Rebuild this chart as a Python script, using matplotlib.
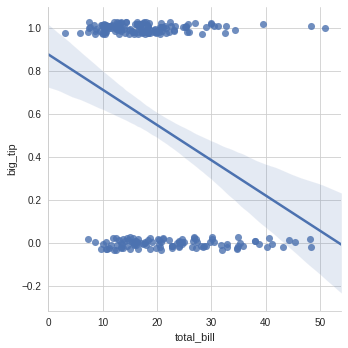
import numpy as np
import pandas as pd
import matplotlib
matplotlib.use("Agg")
import matplotlib.pyplot as plt
import seaborn as sns

# restaurant tips: bill and tip per party
total_bill = [
    16.99, 10.34, 21.01, 23.68, 24.59, 25.29, 8.77, 26.88, 15.04, 14.78,
    10.27, 35.26, 15.42, 18.43, 14.83, 21.58, 10.33, 16.29, 16.97, 20.65,
    17.92, 20.29, 15.77, 39.42, 19.82, 17.81, 13.37, 12.69, 21.70, 19.65,
    9.55, 18.35, 15.06, 20.69, 17.78, 24.06, 16.31, 16.93, 18.69, 31.27,
    16.04, 17.46, 13.94, 9.68, 30.40, 18.29, 22.23, 32.40, 28.55, 18.04,
    12.54, 10.29, 34.81, 9.94, 25.56, 19.49, 38.01, 26.41, 11.24, 48.27,
    20.29, 13.81, 11.02, 18.29, 17.59, 20.08, 16.45, 3.07, 20.23, 15.01,
    12.02, 17.07, 26.86, 25.28, 14.73, 10.51, 17.92, 27.20, 22.76, 17.29,
    19.44, 16.66, 10.07, 32.68, 15.98, 34.83, 13.03, 18.28, 24.71, 21.16,
    28.97, 22.49, 5.75, 16.32, 22.75, 40.17, 27.28, 12.03, 21.01, 12.46,
    11.35, 15.38, 44.30, 22.42, 20.92, 15.36, 20.49, 25.21, 18.24, 14.31,
    14.00, 7.25, 38.07, 23.95, 25.71, 17.31, 29.93, 10.65, 12.43, 24.08,
    11.69, 13.42, 14.26, 15.95, 12.48, 29.80, 8.52, 14.52, 11.38, 22.82,
    19.08, 20.27, 11.17, 12.26, 18.26, 8.51, 10.33, 14.15, 16.00, 13.16,
    17.47, 34.30, 41.19, 27.05, 16.43, 8.35, 18.64, 11.87, 9.78, 7.51,
    14.07, 13.13, 17.26, 24.55, 19.77, 29.85, 48.17, 25.00, 13.39, 16.49,
    21.50, 12.66, 16.21, 13.81, 17.51, 24.52, 20.76, 31.71, 10.59, 10.63,
    50.81, 15.81, 7.25, 31.85, 16.82, 32.90, 17.89, 14.48, 9.60, 34.63,
    34.65, 23.33, 45.35, 23.17, 40.55, 20.69, 20.90, 30.46, 18.15, 23.10,
    15.69, 19.81, 28.44, 15.48, 16.58, 7.56, 10.34, 43.11, 13.00, 13.51,
    18.71, 12.74, 13.00, 16.40, 20.53, 16.47, 26.59, 38.73, 24.27, 12.76,
    30.06, 25.89, 48.33, 13.27, 28.17, 12.90, 28.15, 11.59, 7.74, 30.14,
    12.16, 13.42, 8.58, 15.98, 13.42, 16.27, 10.09, 20.45, 13.28, 22.12,
    24.01, 15.69, 11.61, 10.77, 15.53, 10.07, 12.60, 32.83, 35.83, 29.03,
    27.18, 22.67, 17.82, 18.78,
]
tip = [
    1.01, 1.66, 3.50, 3.31, 3.61, 4.71, 2.00, 3.12, 1.96, 3.23,
    1.71, 5.00, 1.57, 3.00, 3.02, 3.92, 1.67, 3.71, 3.50, 3.35,
    4.08, 2.75, 2.23, 7.58, 3.18, 2.34, 2.00, 2.00, 4.30, 3.00,
    1.45, 2.50, 3.00, 2.45, 3.27, 3.60, 2.00, 3.07, 2.31, 5.00,
    2.24, 2.54, 3.06, 1.32, 5.60, 3.00, 5.00, 6.00, 2.05, 3.00,
    2.50, 2.60, 5.20, 1.56, 4.34, 3.51, 3.00, 1.50, 1.76, 6.73,
    3.21, 2.00, 1.98, 3.76, 2.64, 3.15, 2.47, 1.00, 2.01, 2.09,
    1.97, 3.00, 3.14, 5.00, 2.20, 1.25, 3.08, 4.00, 3.00, 2.71,
    3.00, 3.40, 1.83, 5.00, 2.03, 5.17, 2.00, 4.00, 5.85, 3.00,
    3.00, 3.50, 1.00, 4.30, 3.25, 4.73, 4.00, 1.50, 3.00, 1.50,
    2.50, 3.00, 2.50, 3.48, 4.08, 1.64, 4.06, 4.29, 3.76, 4.00,
    3.00, 1.00, 4.00, 2.55, 4.00, 3.50, 5.07, 1.50, 1.80, 2.92,
    2.31, 1.68, 2.50, 2.00, 2.52, 4.20, 1.48, 2.00, 2.00, 2.18,
    1.50, 2.83, 1.50, 2.00, 3.25, 1.25, 2.00, 2.00, 2.00, 2.75,
    3.50, 6.70, 5.00, 5.00, 2.30, 1.50, 1.36, 1.63, 1.73, 2.00,
    2.50, 2.00, 2.74, 2.00, 2.00, 5.14, 5.00, 3.75, 2.61, 2.00,
    3.50, 2.50, 2.00, 2.00, 3.00, 3.48, 2.24, 4.50, 1.61, 2.00,
    10.00, 3.16, 5.15, 3.18, 4.00, 3.11, 2.00, 2.00, 4.00, 3.55,
    3.68, 5.65, 3.50, 6.50, 3.00, 5.00, 3.50, 2.00, 3.50, 4.00,
    1.50, 4.19, 2.56, 2.02, 4.00, 1.44, 2.00, 5.00, 2.00, 2.00,
    4.00, 2.01, 2.00, 2.50, 4.00, 3.23, 3.41, 3.00, 2.03, 2.23,
    2.00, 5.16, 9.00, 2.50, 6.50, 1.10, 3.00, 1.50, 1.44, 3.09,
    2.20, 3.48, 1.92, 3.00, 1.58, 2.50, 2.00, 3.00, 2.72, 2.88,
    2.00, 3.00, 3.39, 1.47, 3.00, 1.25, 1.00, 1.17, 4.67, 5.92,
    2.00, 2.00, 1.75, 3.00,
]

tips = pd.DataFrame({"total_bill": total_bill, "tip": tip})
tips["big_tip"] = (tips.tip / tips.total_bill) > .15

sns.set_style("whitegrid")
plt.rcParams["font.family"] = ["Liberation Sans", "DejaVu Sans"]
plt.rcParams["xtick.labelsize"] = 10
plt.rcParams["ytick.labelsize"] = 10
plt.rcParams["axes.labelsize"] = 11

np.random.seed(0)
fig = plt.figure(figsize=(348 / 72, 348 / 72), dpi=72)
ax = fig.add_axes([0.139, 0.107, 0.842, 0.873])
ax.set_xlim(0, 53.9)
ax.set_ylim(-0.313, 1.098)
sns.regplot(x="total_bill", y="big_tip", data=tips.astype({"big_tip": float}),
            y_jitter=.03, truncate=False, color="#4C72B0", ax=ax,
            scatter_kws={"s": 50, "alpha": .8, "linewidths": 0},
            line_kws={"lw": 2.5})
ax.set_xlim(0, 53.9)
ax.set_ylim(-0.313, 1.098)
ax.set_xticks([0, 10, 20, 30, 40, 50])
ax.set_yticks([-0.2, 0.0, 0.2, 0.4, 0.6, 0.8, 1.0])
sns.despine(ax=ax)
fig.savefig("out.png", dpi=72)
